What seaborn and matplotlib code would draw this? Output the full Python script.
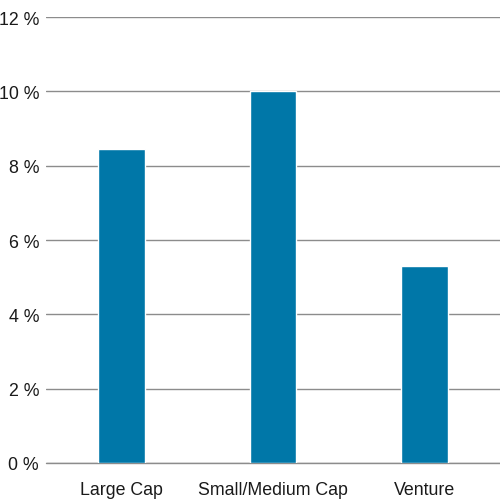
import matplotlib
matplotlib.use("Agg")
import matplotlib.pyplot as plt
import seaborn as sns
import pandas as pd

categories = ["Large Cap", "Small/Medium Cap", "Venture"]
returns = [8.45, 10.0, 5.3]
yticks = [0, 2, 4, 6, 8, 10, 12]

sns.set_style("white")
plt.rcParams['font.family'] = ['Liberation Sans', 'DejaVu Sans']

df = pd.DataFrame({"cat": categories, "val": returns})

fig = plt.figure(figsize=(5.0, 5.02), dpi=100)
ax = fig.add_axes([0.092, 0.0757, 0.908, 0.8883])
sns.barplot(data=df, x="cat", y="val", color="#0077A8", saturation=1,
            width=0.31, ax=ax, zorder=3)

ax.set_ylim(0, 12)
ax.set_yticks(yticks)
ax.set_yticklabels([f"{t} %" for t in yticks])
ax.set_xlim(-0.5, 2.5)
ax.grid(axis="y", color="#8c8c8c", linewidth=1.0, zorder=0)
ax.axhline(0, color="#8c8c8c", linewidth=1.0, zorder=1, clip_on=False)
ax.set_axisbelow(True)
for s in ax.spines.values():
    s.set_visible(False)
ax.tick_params(axis="both", length=0, labelsize=12.8, colors="#1a1a1a")
ax.tick_params(axis="y", pad=5)
ax.tick_params(axis="x", pad=13)
ax.set_xlabel("")
ax.set_ylabel("")

fig.savefig("out.png", dpi=100)
